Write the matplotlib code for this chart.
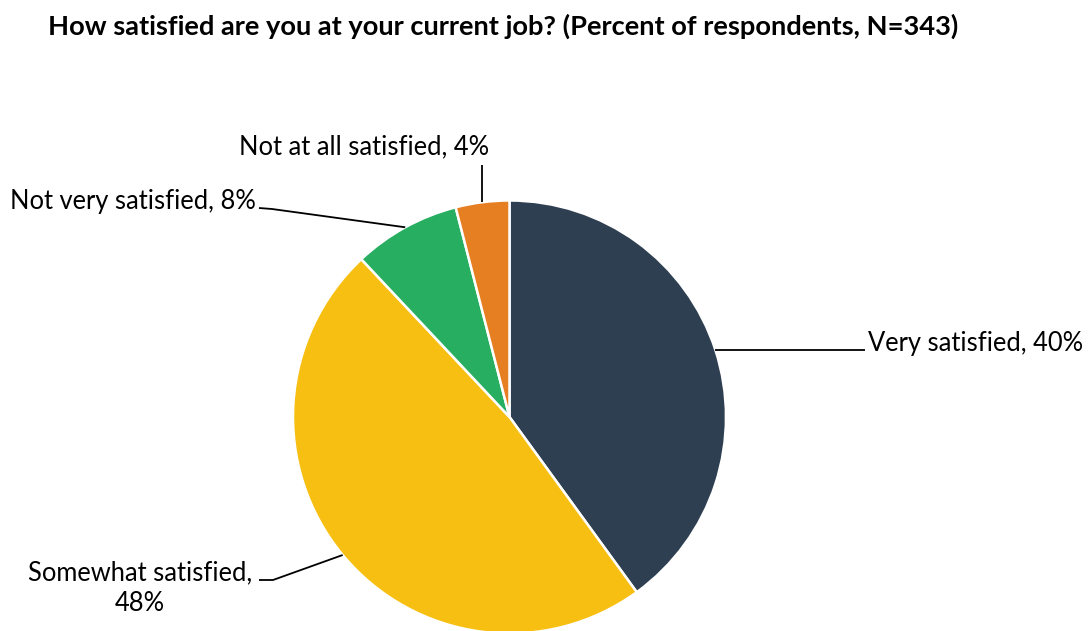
import numpy as np
import matplotlib.pyplot as plt

plt.rcParams["font.family"] = ["Lato", "DejaVu Sans"]

# survey answers, clockwise from 12 o'clock
labels = ["Very satisfied", "Somewhat satisfied", "Not very satisfied", "Not at all satisfied"]
shares = [40, 48, 8, 4]
colors = ["#2E3F51", "#F6BF12", "#28AE61", "#E67E22"]
title = "How satisfied are you at your current job? (Percent of respondents, N=343)"

W, H = 1088, 631
fig = plt.figure(figsize=(W / 100, H / 100), dpi=100)
ax = fig.add_axes([0, 0, 1, 1])


def py(y):
    # pixel row (from top) -> data y
    return H - y


cx, cy, r = 509.5, py(417), 216.5
wedges, _ = ax.pie(shares, colors=colors, startangle=90, counterclock=False,
                   center=(cx, cy), radius=r, frame=True,
                   wedgeprops=dict(edgecolor="white", linewidth=1.8))
ax.set_xlim(0, W)
ax.set_ylim(0, H)
ax.set_aspect("equal")
ax.axis("off")


def edge(w):
    mid = np.deg2rad((w.theta1 + w.theta2) / 2)
    return cx + r * np.cos(mid), cy + r * np.sin(mid)


fs = 18.4
line_kw = dict(color="black", lw=1.3, solid_capstyle="butt")

# Very satisfied
ex, ey = edge(wedges[0])
ax.plot([ex, 865], [ey, ey], **line_kw)
ax.text(868, ey + 7, f"{labels[0]}, {shares[0]}%", fontsize=fs, ha="left", va="center")

# Somewhat satisfied
ex, ey = edge(wedges[1])
ax.plot([259, 273, ex], [py(580), py(580), ey], **line_kw)
ax.text(140, py(588), f"{labels[1]},\n{shares[1]}%", fontsize=fs, ha="center", va="center",
        linespacing=1.3)

# Not very satisfied
ex, ey = edge(wedges[2])
ax.plot([259, 272, ex], [py(208), py(209), ey], **line_kw)
ax.text(256, py(201), f"{labels[2]}, {shares[2]}%", fontsize=fs, ha="right", va="center")

# Not at all satisfied
ex, ey = edge(wedges[3])
ax.plot([ex, ex], [ey, py(165)], **line_kw)
ax.text(364, py(147), f"{labels[3]}, {shares[3]}%", fontsize=fs, ha="center", va="center")

fig.text(48 / W, 1 - 26 / H, title, fontsize=19.6, fontweight="bold", ha="left", va="center")

fig.savefig("out.png", dpi=100, facecolor="white")
